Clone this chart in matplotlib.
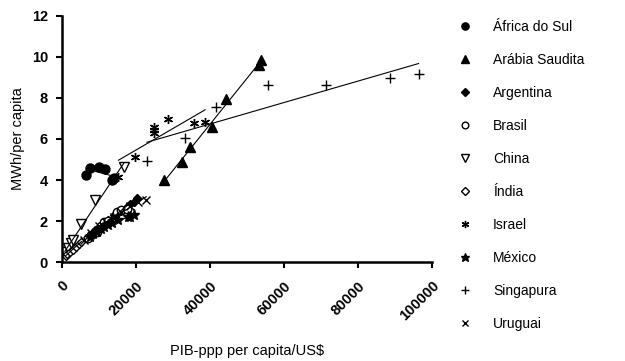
import numpy as np
import matplotlib
matplotlib.use('Agg')
import matplotlib.pyplot as plt

plt.rcParams['font.family'] = ['Liberation Sans', 'DejaVu Sans']

# dados (PIB-ppp per capita em US$, consumo em MWh/per capita)
africa_x = [6600, 7600, 9900, 11700, 13500, 14000]
africa_y = [4.24, 4.60, 4.65, 4.53, 4.00, 4.08]

arabia_x = [27700, 32400, 34500, 40700, 44400, 53300, 53800]
arabia_y = [4.00, 4.86, 5.62, 6.60, 7.94, 9.60, 9.85]

argentina_x = [7500, 9000, 10000, 11000, 12500, 14000, 16000, 17500, 18500, 19500, 20300]
argentina_y = [1.30, 1.55, 1.70, 1.85, 2.05, 2.30, 2.50, 2.70, 2.85, 2.95, 3.10]

brasil_x = [7100, 8000, 9400, 10500, 11500, 12500, 14800, 16100, 17500]
brasil_y = [1.16, 1.30, 1.48, 1.75, 1.95, 2.00, 2.45, 2.53, 2.60]

china_x = [800, 1600, 2600, 3100, 5300, 8900, 16700]
china_y = [0.50, 0.70, 0.91, 1.07, 1.84, 3.02, 4.65]

india_x = [1000, 1500, 2200, 3000, 3800, 4500, 5300]
india_y = [0.30, 0.40, 0.50, 0.60, 0.75, 0.90, 1.00]

israel_x = [15300, 19800, 24900, 24900, 24900, 28800, 35600, 38700]
israel_y = [4.16, 5.14, 6.30, 6.45, 6.60, 6.96, 6.77, 6.84]

mexico_x = [7500, 8500, 9500, 10500, 11500, 12500, 13500, 15300, 17900, 18500, 19400]
mexico_y = [1.20, 1.35, 1.45, 1.60, 1.70, 1.80, 1.90, 2.05, 2.18, 2.20, 2.29]

singapura_x = [23000, 33300, 41600, 55800, 71400, 88700, 96400]
singapura_y = [4.94, 6.03, 7.55, 8.63, 8.63, 8.96, 9.17]

uruguai_x = [6000, 8000, 10000, 12000, 14000, 16000, 18500, 20500, 22800]
uruguai_y = [1.10, 1.40, 1.75, 1.95, 2.20, 2.45, 2.75, 2.95, 3.02]

paises = ['África do Sul', 'Arábia Saudita', 'Argentina', 'Brasil', 'China',
          'Índia', 'Israel', 'México', 'Singapura', 'Uruguai']
dados = [(africa_x, africa_y), (arabia_x, arabia_y), (argentina_x, argentina_y),
         (brasil_x, brasil_y), (china_x, china_y), (india_x, india_y),
         (israel_x, israel_y), (mexico_x, mexico_y), (singapura_x, singapura_y),
         (uruguai_x, uruguai_y)]

# marcador, preenchido?, tamanho
estilos = [('o', True, 6.5), ('^', True, 6.5), ('D', True, 4.5), ('o', False, 6),
           ('v', False, 6.5), ('D', False, 4.5), ((6, 2, 0), True, 6.5), ('*', True, 8),
           ('+', True, 7), ('x', True, 5.5)]

fig = plt.figure(figsize=(6.25, 3.61), dpi=100)
ax = fig.add_axes([0.099, 0.274, 0.592, 0.682])

for nome, (x, y), (mk, cheio, ms) in zip(paises, dados, estilos):
    x = np.array(x, dtype=float)
    y = np.array(y, dtype=float)
    ax.plot(x, y, linestyle='none', marker=mk, markersize=ms,
            markerfacecolor='black' if cheio else 'white',
            markeredgecolor='black', markeredgewidth=1.0, label=nome)
    # reta de regressao linear de cada pais
    a, b = np.polyfit(x, y, 1)
    xs = np.array([x.min(), x.max()])
    ax.plot(xs, a * xs + b, color='black', linewidth=0.8)

ax.set_xlim(0, 100000)
ax.set_ylim(0, 12)
ax.set_xticks([0, 20000, 40000, 60000, 80000, 100000])
ax.set_yticks([0, 2, 4, 6, 8, 10, 12])
ax.set_xticklabels(['0', '20000', '40000', '60000', '80000', '100000'],
                   rotation=45, ha='right', va='top', rotation_mode='anchor',
                   fontweight='bold', fontsize=10.5)
ax.set_yticklabels(['0', '2', '4', '6', '8', '10', '12'], fontweight='bold', fontsize=10.5)

for s in ['top', 'right']:
    ax.spines[s].set_visible(False)
for s in ['left', 'bottom']:
    ax.spines[s].set_linewidth(1.8)
ax.tick_params(width=1.5, length=4)
ax.tick_params(axis='y', pad=6)
ax.tick_params(axis='x', pad=8)

ax.set_xlabel('PIB-ppp per capita/US$', fontsize=10.5, labelpad=15)
ax.set_ylabel('MWh/per capita', fontsize=10.5, labelpad=5)

fig.legend(loc='upper left', bbox_to_anchor=(0.713, 0.98), frameon=False,
           fontsize=10, markerscale=0.8, handlelength=1.0, handletextpad=1.5,
           labelspacing=1.37)

fig.savefig('out.png', dpi=100)
